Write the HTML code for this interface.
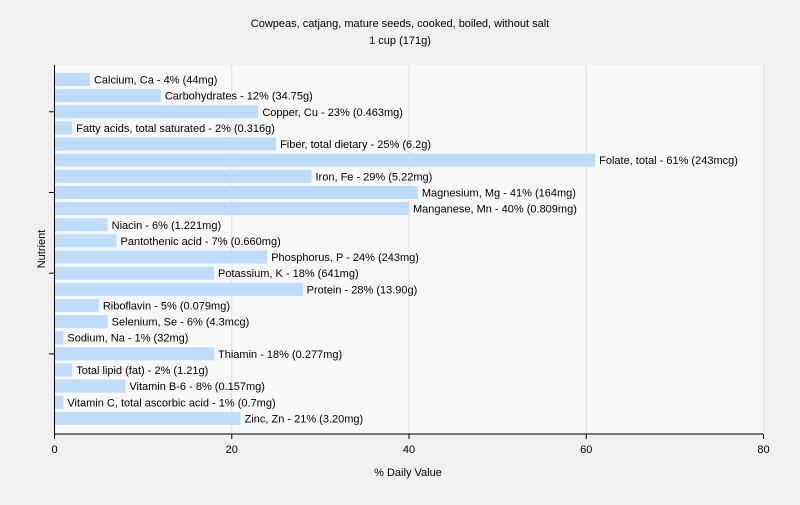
<!DOCTYPE html>
<html><head><meta charset="utf-8"><style>
body{margin:0;background:#f0f0f0;font-family:"Liberation Sans",sans-serif}
svg text{font-family:"Liberation Sans",sans-serif;font-size:11px;fill:#000}
</style></head><body>
<svg width="800" height="500">
<rect x="0" y="0" width="800" height="500" fill="#f0f0f0"/>
<rect x="55" y="65" width="708" height="369" fill="#f8f8f8"/>
<text x="400" y="27" text-anchor="middle">Cowpeas, catjang, mature seeds, cooked, boiled, without salt</text>
<text x="400" y="44" text-anchor="middle">1 cup (171g)</text>
<g id="grid"></g><g id="bars"></g><g id="axes"></g>
<text x="408" y="476" text-anchor="middle">% Daily Value</text>
<text x="45" y="249" text-anchor="middle" transform="rotate(-90 45 249)">Nutrient</text>
</svg>
<script>
const labels=["Calcium, Ca - 4% (44mg)","Carbohydrates - 12% (34.75g)","Copper, Cu - 23% (0.463mg)","Fatty acids, total saturated - 2% (0.316g)","Fiber, total dietary - 25% (6.2g)","Folate, total - 61% (243mcg)","Iron, Fe - 29% (5.22mg)","Magnesium, Mg - 41% (164mg)","Manganese, Mn - 40% (0.809mg)","Niacin - 6% (1.221mg)","Pantothenic acid - 7% (0.660mg)","Phosphorus, P - 24% (243mg)","Potassium, K - 18% (641mg)","Protein - 28% (13.90g)","Riboflavin - 5% (0.079mg)","Selenium, Se - 6% (4.3mcg)","Sodium, Na - 1% (32mg)","Thiamin - 18% (0.277mg)","Total lipid (fat) - 2% (1.21g)","Vitamin B-6 - 8% (0.157mg)","Vitamin C, total ascorbic acid - 1% (0.7mg)","Zinc, Zn - 21% (3.20mg)"];
const values=[4,12,23,2,25,61,29,41,40,6,7,24,18,28,5,6,1,18,2,8,1,21];
const xTicks=[0,20,40,60,80];
const NS="http://www.w3.org/2000/svg";
const x=v=>54.5+v*8.8625;
const y=i=>79.5+i*16.14;
function mk(t,a,p){const e=document.createElementNS(NS,t);for(const k in a)e.setAttribute(k,a[k]);p.appendChild(e);return e;}
const G=document.getElementById('grid'),B=document.getElementById('bars'),A=document.getElementById('axes');
xTicks.forEach(t=>{
 if(t>0){const l=mk('line',{x1:x(t),x2:x(t),y1:65,y2:434,stroke:'#e0e0e0'},G);
 
 }
 const tk=mk('line',{x1:x(t),x2:x(t),y1:434,y2:439,stroke:'#000'},A);
 
 
 const tx=mk('text',{x:x(t),y:453,'text-anchor':'middle','font-size':'12'},A);tx.textContent=t;
 
 
});
values.forEach((v,i)=>{
 const r=mk('rect',{x:55,y:y(i)-6.5,width:x(v)-55,height:13,fill:'#bfdbfe'},B);
 
 
 const t=mk('text',{x:x(v)+4,y:y(i)+4},B);t.textContent=labels[i];
 
 
});
[2,7,12,17].forEach(i=>{const l=mk('line',{x1:49,x2:54.5,y1:y(i),y2:y(i),stroke:'#000'},A);
 
 });
const ya=mk('line',{x1:54.5,x2:54.5,y1:65,y2:434,stroke:'#000'},A);


const xa=mk('line',{x1:54.5,x2:763,y1:434,y2:434,stroke:'#000'},A);


</script>
</body></html>
